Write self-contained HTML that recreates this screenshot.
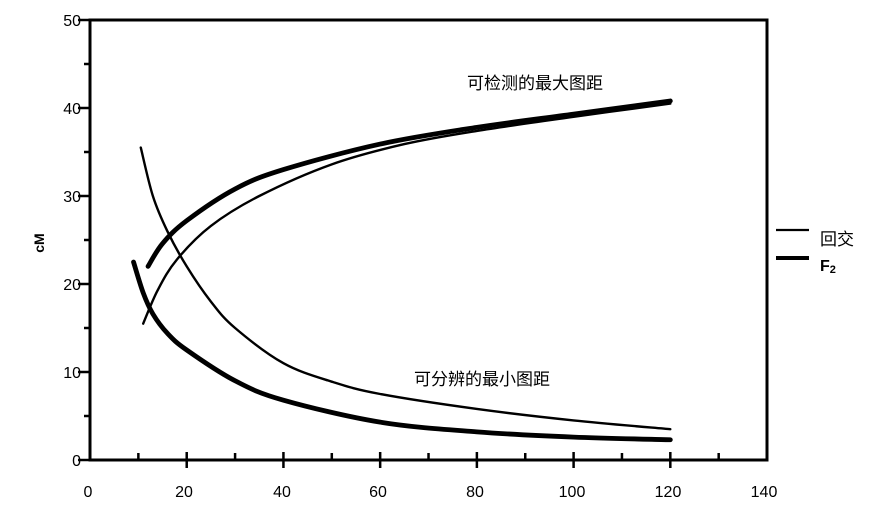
<!DOCTYPE html>
<html><head><meta charset="utf-8"><style>
body{margin:0;background:#fff}
svg{display:block}
text{font-family:"Liberation Sans","Noto Sans CJK SC",sans-serif;fill:#000}
</style></head><body>
<svg id="s" width="895" height="507" viewBox="0 0 895 507">
<rect x="90" y="20" width="677" height="440" fill="none" stroke="#000" stroke-width="3"/>
<g id="ticks" stroke="#000" stroke-width="2.5"></g>
<g font-size="16" text-anchor="end">
<text x="81" y="466">0</text><text x="81" y="378">10</text><text x="81" y="290">20</text>
<text x="81" y="202">30</text><text x="81" y="114">40</text><text x="81" y="26">50</text>
</g>
<g font-size="16" text-anchor="middle">
<text x="88" y="497">0</text><text x="184" y="497">20</text><text x="282" y="497">40</text>
<text x="378" y="497">60</text><text x="475" y="497">80</text><text x="572" y="497">100</text>
<text x="668" y="497">120</text><text x="764" y="497">140</text>
</g>
<text x="44" y="243" font-size="14" font-weight="bold" text-anchor="middle" transform="rotate(-90 44 243)">cM</text>
<text x="467" y="89" font-size="17">可检测的最大图距</text>
<text x="414" y="385" font-size="17">可分辨的最小图距</text>
<line x1="776" y1="230" x2="809" y2="230" stroke="#000" stroke-width="2.2"/>
<line x1="776" y1="258" x2="809" y2="258" stroke="#000" stroke-width="4"/>
<text x="820" y="245" font-size="17">回交</text>
<text x="820" y="271" font-size="16" font-weight="bold" font-family="Liberation Serif,serif">F<tspan font-size="11" dy="2">2</tspan></text>
<g id="curves" fill="none" stroke="#000" stroke-linecap="round"></g>
</svg>
<script>
var X=function(x){return 90+4.836*x},Y=function(y){return 460-8.8*y};
var t=document.getElementById('ticks'),h='';
for(var v=10;v<140;v+=10){var px=X(v);h+= v%20==0?'<line x1="'+px+'" y1="452" x2="'+px+'" y2="468"/>':'<line x1="'+px+'" y1="453" x2="'+px+'" y2="460"/>';}
for(var v=5;v<50;v+=5){var py=Y(v);h+= v%10==0?'<line x1="78" y1="'+py+'" x2="90" y2="'+py+'"/>':'<line x1="84" y1="'+py+'" x2="90" y2="'+py+'"/>';}
h+='<line x1="78" y1="460" x2="90" y2="460"/><line x1="78" y1="20" x2="90" y2="20"/>';
t.innerHTML=h;
function path(p){var pts=p.map(function(a){return[X(a[0]),Y(a[1])]});var d='M'+pts[0][0]+','+pts[0][1];
for(var i=0;i<pts.length-1;i++){var p0=pts[i-1]||pts[i],p1=pts[i],p2=pts[i+1],p3=pts[i+2]||p2;
d+=' C'+(p1[0]+(p2[0]-p0[0])/6)+','+(p1[1]+(p2[1]-p0[1])/6)+' '+(p2[0]-(p3[0]-p1[0])/6)+','+(p2[1]-(p3[1]-p1[1])/6)+' '+p2[0]+','+p2[1];}return d;}
var c=[
[[[11,15.5],[14,19.3],[18,22.8],[25,26.6],[35,30],[50,33.6],[65,35.9],[80,37.4],[100,39],[120,40.5]],2.4],
[[[12,22],[15,24.6],[20,27.2],[30,30.8],[40,33],[60,35.9],[80,37.8],[100,39.3],[120,40.8]],4.8],
[[[10.5,35.5],[13,30],[16,26],[20,22],[25,18],[30,15],[40,11],[50,8.9],[60,7.5],[80,5.8],[100,4.5],[120,3.5]],2.4],
[[[9,22.5],[11,19],[13,16.6],[16,14.4],[20,12.5],[30,9],[40,6.8],[60,4.3],[80,3.2],[100,2.6],[120,2.3]],4.8]];
var g='';c.forEach(function(s){g+='<path d="'+path(s[0])+'" stroke-width="'+s[1]+'"/>'});
document.getElementById('curves').innerHTML=g;
</script>
</body></html>
